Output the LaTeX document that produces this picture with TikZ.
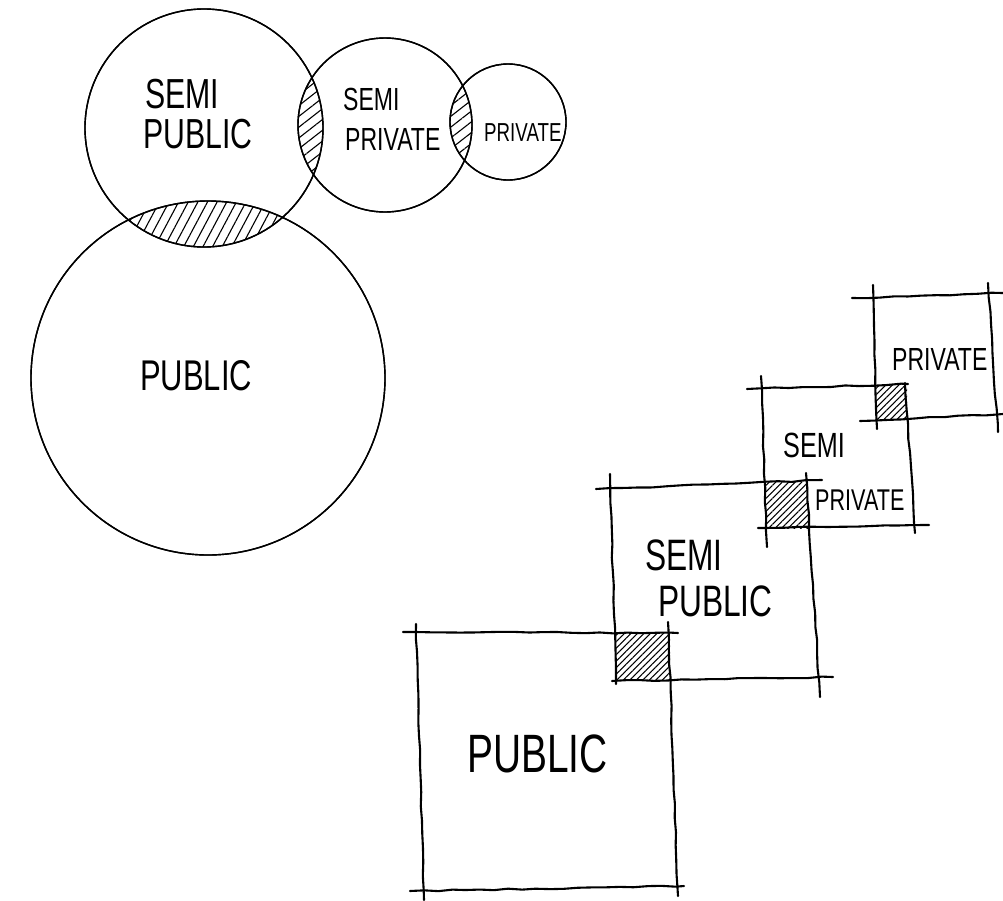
\documentclass[tikz,border=0pt]{standalone}
\usepackage{fontspec}
\usepackage{tikz}
\usetikzlibrary{patterns.meta,decorations.pathmorphing}
\newfontfamily\handfont{Liberation Sans}[FakeStretch=0.72]

\begin{document}
\pgfmathsetseed{11}
\begin{tikzpicture}[
  x=1pt, y=-1pt,
  zone/.style={circle, draw, line width=1.4pt, inner sep=0pt},
  lbl/.style={font=\handfont\fontsize{#1}{#1}\selectfont, anchor=base west, inner sep=0pt},
  sk/.style={line width=2.1pt, line cap=round,
             decorate, decoration={random steps, segment length=14pt, amplitude=0.7pt}},
  hatch/.style={pattern={Lines[angle=#1, distance=8.5pt, line width=1.1pt]}},
  shade/.style={pattern={Lines[angle=45, distance=4.6pt, line width=1.1pt]}}
]
  \useasboundingbox (0,0) rectangle (1003,900);
  \fill[white] (0,0) rectangle (1003,900);

  % bubble diagram
  \node[zone, minimum size=238pt] (semipub)  at (204,128) {};
  \node[zone, minimum size=174pt] (semipriv) at (385,125) {};
  \node[zone, minimum size=116pt] (priv)     at (508,122) {};
  \node[zone, minimum size=354pt] (pub)      at (208,378) {};

  \begin{scope}
    \clip (semipub.center) circle[radius=119];
    \fill[hatch=62] (pub.center) circle[radius=177];
  \end{scope}
  \begin{scope}
    \clip (semipub.center) circle[radius=119];
    \fill[hatch=38] (semipriv.center) circle[radius=87];
  \end{scope}
  \begin{scope}
    \clip (semipriv.center) circle[radius=87];
    \fill[hatch=38] (priv.center) circle[radius=58];
  \end{scope}
  \foreach \c/\r in {semipub/119, semipriv/87, priv/58, pub/177}
    \draw[line width=1.4pt] (\c.center) circle[radius=\r];

  \node[lbl=42] (spsemi) at (145,108) {SEMI};
  \node[lbl=42] (sppub)  at (143,148) {PUBLIC};
  \node[lbl=32] (svsemi) at (343,110) {SEMI};
  \node[lbl=32] (svpriv) at (345,150) {PRIVATE};
  \node[lbl=26] (pvpriv) at (484,141) {PRIVATE};
  \node[lbl=43] (pupub)  at (140,390) {PUBLIC};

  % stepped squares
  \fill[shade] (616,633) rectangle (670,680);
  \fill[shade] (765,482) rectangle (808,528);
  \fill[shade] (875,385) rectangle (907,419);

  % public
  \draw[sk] (403,632) -- (678,633);
  \draw[sk] (416,624) -- (424,900);
  \draw[sk] (668,622) -- (678,896);
  \draw[sk] (410,891) -- (684,886);
  % semi public
  \draw[sk] (596,489) -- (822,480);
  \draw[sk] (610,474) -- (616,684);
  \draw[sk] (806,473) -- (820,697);
  \draw[sk] (612,681) -- (833,677);
  % semi private
  \draw[sk] (747,389) -- (908,384);
  \draw[sk] (761,376) -- (767,547);
  \draw[sk] (905,383) -- (915,533);
  \draw[sk] (758,528) -- (929,525);
  % private
  \draw[sk] (852,298) -- (1003,293);
  \draw[sk] (873,285) -- (877,429);
  \draw[sk] (988,283) -- (998,432);
  \draw[sk] (860,421) -- (1003,414);

  \node[lbl=54] (bpub)   at (467,772) {PUBLIC};
  \node[lbl=44] (bssemi) at (645,570) {SEMI};
  \node[lbl=44] (bspub)  at (658,616) {PUBLIC};
  \node[lbl=35] (bvsemi) at (783,457) {SEMI};
  \node[lbl=30] (bvpriv) at (815,510) {PRIVATE};
  \node[lbl=32] (bppriv) at (892,370) {PRIVATE};
\end{tikzpicture}
\end{document}
